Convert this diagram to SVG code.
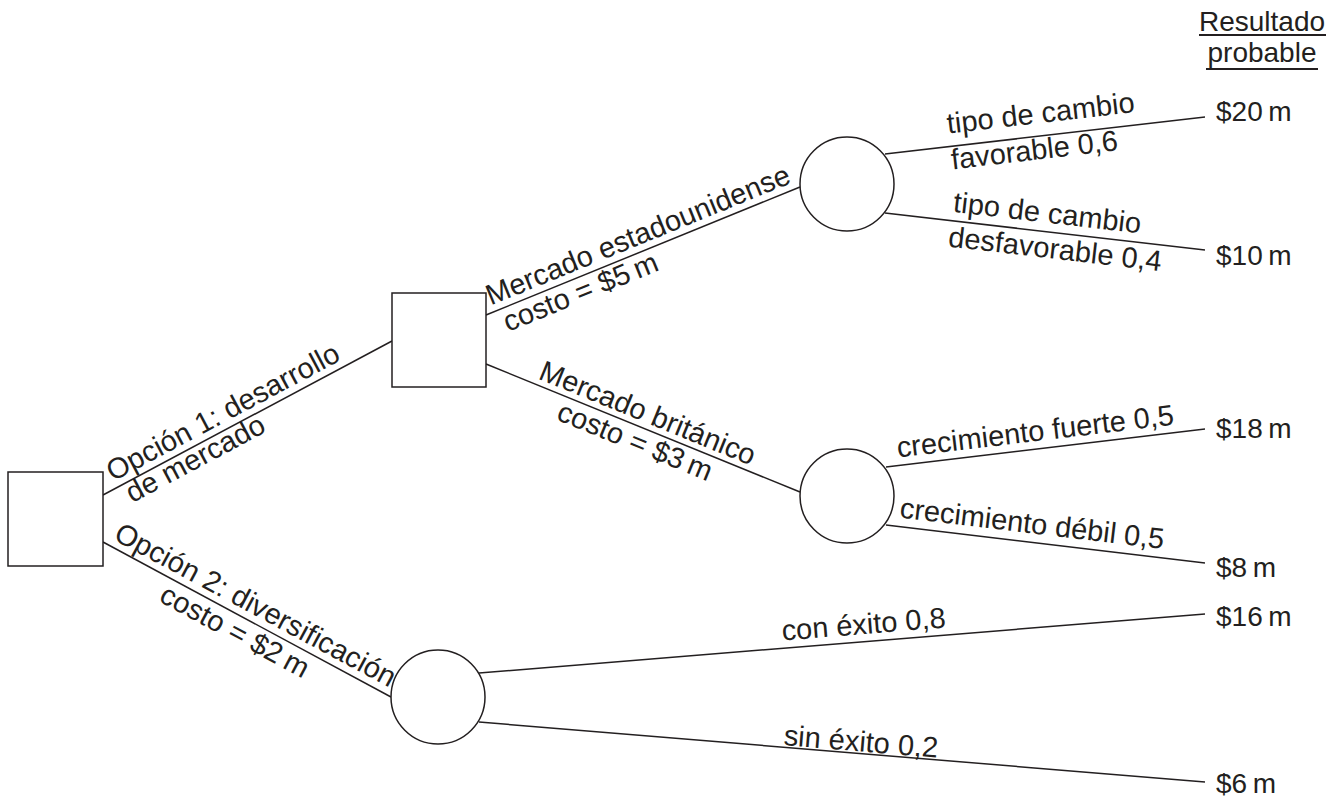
<svg xmlns="http://www.w3.org/2000/svg" width="1334" height="798" viewBox="0 0 1334 798">
<style>
.n{fill:#fff;stroke:#231f20;stroke-width:1.5}
.c line{stroke:#231f20;stroke-width:1.5}
text{font-family:"Liberation Sans",Arial,sans-serif;font-size:28px;fill:#231f20}
#labels text{font-size:29px}
.u{stroke:#231f20;stroke-width:2}
</style>
<rect width="1334" height="798" fill="#fff"/>
<g id="connectors" class="c">
<line x1="103" y1="495" x2="392" y2="341"/>
<line x1="103" y1="542" x2="391" y2="697"/>
<line x1="486" y1="315" x2="800" y2="187"/>
<line x1="486" y1="364" x2="800" y2="492"/>
<line x1="885" y1="154" x2="1205" y2="117"/>
<line x1="885" y1="213" x2="1205" y2="250"/>
<line x1="886" y1="467" x2="1205" y2="429"/>
<line x1="886" y1="525" x2="1205" y2="563"/>
<line x1="479" y1="673" x2="1205" y2="614"/>
<line x1="479" y1="722" x2="1205" y2="782"/>
</g>
<g id="root"><rect class="n" x="8" y="472" width="95" height="94"/></g>
<g id="decision2"><rect class="n" x="392" y="293" width="94" height="94"/></g>
<g id="chanceUS"><circle class="n" cx="847" cy="184" r="47"/></g>
<g id="chanceUK"><circle class="n" cx="847" cy="496" r="47"/></g>
<g id="chanceDiv"><circle class="n" cx="438" cy="697" r="47"/></g>
<g id="labels">
<g transform="translate(103,495) rotate(-28.05)"><text x="15" y="-7">Opción 1: desarrollo</text><text x="22" y="21">de mercado</text></g>
<g transform="translate(103,542) rotate(28.2)"><text x="7" y="-7">Opción 2: diversificación</text><text x="76" y="26">costo = $2&#8201;m</text></g>
<g transform="translate(486,315) rotate(-22.18)"><text x="8" y="-7">Mercado estadounidense</text><text x="14" y="24">costo = $5&#8201;m</text></g>
<g transform="translate(486,364) rotate(22.18)"><text x="53" y="-6">Mercado británico</text><text x="85" y="25">costo = $3&#8201;m</text></g>
<g transform="translate(885,154) rotate(-6.6)"><text x="65" y="-13">tipo de cambio</text><text x="65" y="23">favorable 0,6</text></g>
<g transform="translate(885,213) rotate(6.6)"><text x="67" y="-9">tipo de cambio</text><text x="66" y="26">desfavorable 0,4</text></g>
<g transform="translate(886,467) rotate(-6.8)"><text x="13" y="-8">crecimiento fuerte 0,5</text></g>
<g transform="translate(886,525) rotate(6.8)"><text x="12" y="-9">crecimiento débil 0,5</text></g>
<g transform="translate(479,673) rotate(-4.6)"><text x="305" y="-8">con éxito 0,8</text></g>
<g transform="translate(479,722) rotate(4.7)"><text x="305" y="-2">sin éxito 0,2</text></g>
</g>
<g id="outcomes">
<text x="1262" y="31" text-anchor="middle">Resultado</text>
<line class="u" x1="1199" y1="35" x2="1326" y2="35"/>
<text x="1262" y="62" text-anchor="middle">probable</text>
<line class="u" x1="1206" y1="69" x2="1318" y2="69"/>
<text x="1216" y="121">$20&#8201;m</text>
<text x="1216" y="265">$10&#8201;m</text>
<text x="1216" y="438">$18&#8201;m</text>
<text x="1216" y="577">$8&#8201;m</text>
<text x="1216" y="626">$16&#8201;m</text>
<text x="1216" y="793">$6&#8201;m</text>
</g>
</svg>
